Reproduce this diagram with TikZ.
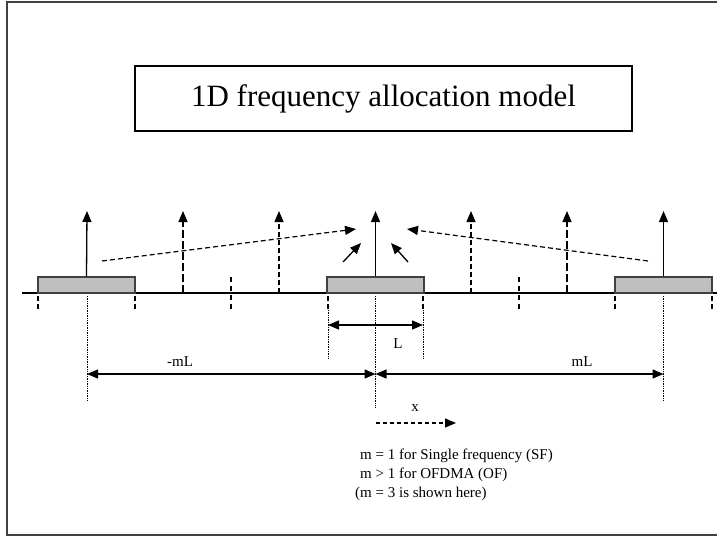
\documentclass[tikz,border=0pt]{standalone}
\usepackage{fontspec}
\setmainfont{Liberation Serif}
\usetikzlibrary{arrows.meta}

\begin{document}
\begin{tikzpicture}[x=1pt, y=-1pt,
    band/.style={draw=black!75, fill=black!25, line width=1.3pt,
        minimum width=97pt, minimum height=16pt, inner sep=0pt},
    tip/.style={-{Triangle[length=11pt,width=9pt]}},
    both/.style={{Triangle[length=11pt,width=9pt]}-{Triangle[length=11pt,width=9pt]}},
    lbl/.style={font=\fontsize{15}{17}\selectfont, inner sep=0pt}]

    \useasboundingbox (0,0) rectangle (717,538);
    \draw[black!75, line width=1.6pt] (730,2) -- (7,2) -- (7,535) -- (730,535);

    % title
    \node[draw, line width=1.1pt, minimum width=497pt, minimum height=65pt,
        font=\fontsize{31}{35}\selectfont] (title) at (383.5,98.5)
        {1D frequency allocation model};

    % axis and bands
    \draw[line width=1.2pt] (22,293) -- (717,293);
    \node[band] (bl) at (86.5,285) {};
    \node[band] (bc) at (375.5,285) {};
    \node[band] (br) at (663.5,285) {};

    % carriers
    \coordinate (tl) at (87,211);
    \coordinate (tc) at (375.5,211);
    \coordinate (tr) at (663.5,211);
    \draw[tip, line width=1.3pt] (bl.north) -- (tl);
    \draw[tip, line width=1.3pt] (bc.north) -- (tc);
    \draw[tip, line width=1.3pt] (br.north) -- (tr);
    \foreach \x in {183,567}
    \draw[tip, line width=1.4pt, dash pattern=on 8pt off 3pt] (\x,293) -- (\x,211);
    \foreach \x in {279,471}
    \draw[tip, line width=1.4pt, dash pattern=on 5pt off 3pt] (\x,293) -- (\x,211);
    \foreach \x in {231,519}
    \draw[line width=1.3pt, dash pattern=on 5pt off 4pt] (\x,277) -- (\x,311);

    % band edge ticks
    \foreach \x in {38,135,328,423,615,712}
    \draw[line width=1.3pt, dash pattern=on 5pt off 3pt] (\x,296) -- (\x,310);

    % interference
    \coordinate (il) at (102,261);
    \coordinate (ir) at (648,261);
    \draw[tip, line width=1.2pt, dash pattern=on 5pt off 3pt] (il) -- (356,229);
    \draw[tip, line width=1.2pt, dash pattern=on 5pt off 3pt] (ir) -- (407,229);
    \draw[tip, line width=1.3pt] (343,262) -- (361,243);
    \draw[tip, line width=1.3pt] (408,262) -- (391,243);

    % dimensions
    \foreach \x/\y in {87/401,375.5/407,663.5/401}
    \draw[densely dotted, line width=0.7pt] (\x,296) -- (\x,\y);
    \foreach \x in {328,423}
    \draw[densely dotted, line width=0.7pt] (\x,310) -- (\x,358);
    \coordinate (ml) at (87,374);
    \coordinate (m0) at (375.5,374);
    \coordinate (mr) at (663.5,374);
    \draw[both, line width=1.3pt] (328,325) -- (423,325);
    \draw[both, line width=1.3pt] (ml) -- (m0);
    \draw[both, line width=1.3pt] (m0) -- (mr);
    \node[lbl] (lL) at (398,344) {L};
    \node[lbl] (lmL) at (180,362) {-mL};
    \node[lbl] (lpL) at (582,362) {mL};

    % x direction
    \node[lbl] (lx) at (415,408) {x};
    \draw[tip, line width=1.2pt, dash pattern=on 4pt off 3pt] (375.5,423) -- (456,423);

    % notes
    \node[lbl, anchor=west] (n1) at (360,456) {m = 1 for Single frequency (SF)};
    \node[lbl, anchor=west] (n2) at (360,475) {m > 1 for OFDMA (OF)};
    \node[lbl, anchor=west] (n3) at (355,494) {(m = 3 is shown here)};

\end{tikzpicture}
\end{document}
